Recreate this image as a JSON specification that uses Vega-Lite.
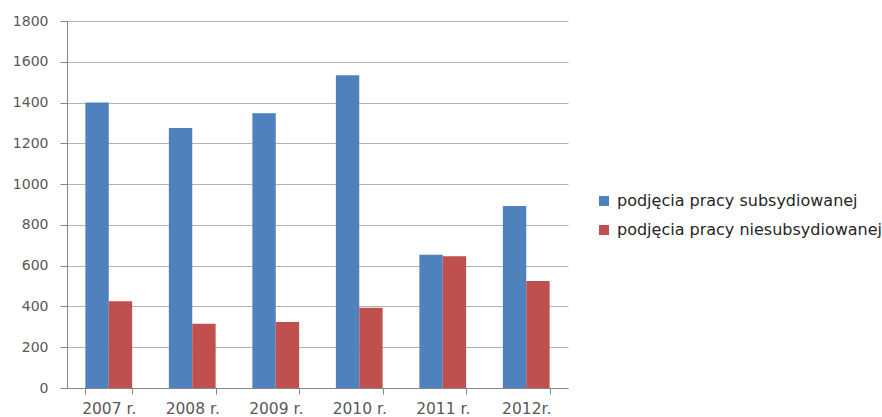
{
  "$schema": "https://vega.github.io/schema/vega-lite/v6.json",
  "width": 501,
  "height": 367,
  "autosize": {"type": "none"},
  "padding": {"left": 67, "top": 21, "right": 314, "bottom": 29},
  "background": "white",
  "data": {
    "values": [
      {"rok": "2007 r.", "seria": "podjęcia pracy subsydiowanej", "wartosc": 1400},
      {"rok": "2007 r.", "seria": "podjęcia pracy niesubsydiowanej", "wartosc": 426},
      {"rok": "2008 r.", "seria": "podjęcia pracy subsydiowanej", "wartosc": 1275},
      {"rok": "2008 r.", "seria": "podjęcia pracy niesubsydiowanej", "wartosc": 315},
      {"rok": "2009 r.", "seria": "podjęcia pracy subsydiowanej", "wartosc": 1348},
      {"rok": "2009 r.", "seria": "podjęcia pracy niesubsydiowanej", "wartosc": 324},
      {"rok": "2010 r.", "seria": "podjęcia pracy subsydiowanej", "wartosc": 1534},
      {"rok": "2010 r.", "seria": "podjęcia pracy niesubsydiowanej", "wartosc": 394},
      {"rok": "2011 r.", "seria": "podjęcia pracy subsydiowanej", "wartosc": 653},
      {"rok": "2011 r.", "seria": "podjęcia pracy niesubsydiowanej", "wartosc": 646},
      {"rok": "2012r.", "seria": "podjęcia pracy subsydiowanej", "wartosc": 893},
      {"rok": "2012r.", "seria": "podjęcia pracy niesubsydiowanej", "wartosc": 525}
    ]
  },
  "mark": {"type": "bar"},
  "encoding": {
    "x": {
      "field": "rok",
      "type": "nominal",
      "sort": null,
      "scale": {"paddingInner": 0.44, "paddingOuter": 0.22},
      "axis": {
        "title": null,
        "labelAngle": 0,
        "tickBand": "extent",
        "domainColor": "#868686",
        "tickColor": "#868686",
        "tickSize": 6,
        "labelFont": "DejaVu Sans",
        "labelFontSize": 15.5,
        "labelColor": "#595959",
        "labelPadding": 7
      }
    },
    "xOffset": {
      "field": "seria",
      "type": "nominal",
      "sort": ["podjęcia pracy subsydiowanej", "podjęcia pracy niesubsydiowanej"]
    },
    "y": {
      "field": "wartosc",
      "type": "quantitative",
      "scale": {"domain": [0, 1800], "nice": false},
      "axis": {
        "title": null,
        "values": [0, 200, 400, 600, 800, 1000, 1200, 1400, 1600, 1800],
        "format": "d",
        "grid": true,
        "gridColor": "#b3b3b3",
        "domainColor": "#868686",
        "tickColor": "#868686",
        "tickSize": 7,
        "labelFont": "DejaVu Sans",
        "labelFontSize": 14,
        "labelColor": "#595959",
        "labelPadding": 12
      }
    },
    "color": {
      "field": "seria",
      "type": "nominal",
      "sort": ["podjęcia pracy subsydiowanej", "podjęcia pracy niesubsydiowanej"],
      "scale": {"range": ["#4F81BD", "#C0504D"]},
      "legend": {
        "title": null,
        "orient": "none",
        "legendX": 529,
        "legendY": 172,
        "symbolType": "square",
        "symbolSize": 100,
        "symbolStrokeWidth": 0,
        "labelFont": "DejaVu Sans",
        "labelFontSize": 16,
        "labelColor": "#262626",
        "labelLimit": 400,
        "rowPadding": 13,
        "labelOffset": 5
      }
    }
  },
  "config": {"view": {"stroke": null}}
}
